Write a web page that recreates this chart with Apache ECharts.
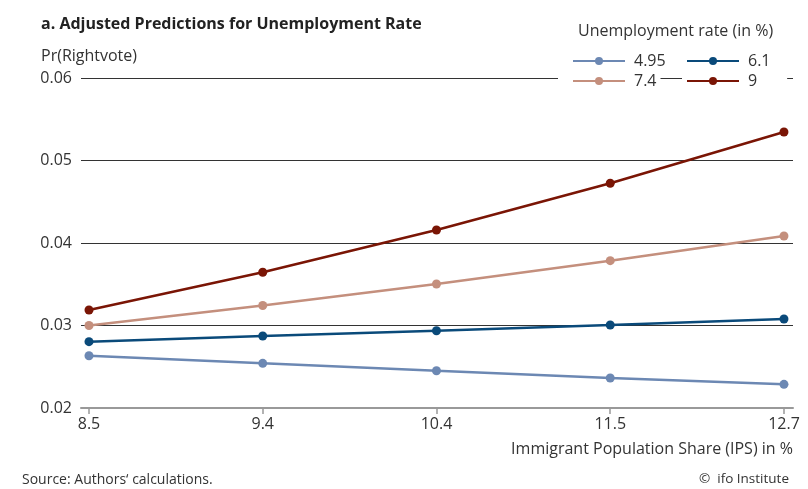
<!DOCTYPE html>
<html><head><meta charset="utf-8">
<script src="https://cdn.jsdelivr.net/npm/echarts@6/dist/echarts.min.js"></script>
<style>html,body{margin:0;padding:0;background:#fff}#c{width:808px;height:489px}</style>
</head><body><div id="c"></div>
<script>
var categories = ['8.5','9.4','10.4','11.5','12.7'];
var seriesNames = ['4.95','6.1','7.4','9'];
var s495 = [0.02634,0.02541,0.02452,0.02364,0.02287];
var s61  = [0.02804,0.02873,0.02937,0.03006,0.03079];
var s74  = [0.03000,0.03242,0.03503,0.03786,0.04085];
var s9   = [0.03188,0.03645,0.04158,0.04724,0.05345];
var yTicks = [0.02,0.03,0.04,0.05,0.06];
var colors = ['#6c88b3','#0a4a7a','#c48f7d','#7a1505'];
var values = [s495,s61,s74,s9];
var idx = categories.map(function(_,i){return i;});
var FONT = 'Open Sans';
var FS = 16;
var chart = echarts.init(document.getElementById('c'), null, {renderer:'canvas'});
var series = values.map(function(v,k){
  return {
    name: seriesNames[k], type:'line', z: 5,
    data: v.map(function(y,i){return [i,y];}),
    symbol:'circle', symbolSize:9, showSymbol:true,
    lineStyle:{color:colors[k], width:2.5},
    itemStyle:{color:colors[k]},
    emphasis:{disabled:true}, animation:false
  };
});
var legendCommon = {
  orient:'horizontal', itemWidth:52, itemHeight:10, itemGap:12,
  textStyle:{fontFamily:FONT, fontSize:FS, color:'#333', padding:[0,0,0,4]},
  selectedMode:false, backgroundColor:'#fff', padding:[2,4,2,4]
};
chart.setOption({
  animation:false,
  textStyle:{fontFamily:FONT},
  title:[
    {text:'a. Adjusted Predictions for Unemployment Rate', left:36, top:11,
     textStyle:{fontFamily:FONT, fontSize:FS, fontWeight:'bold', color:'#222'}},
    {text:'Pr(Rightvote)', left:36, top:43,
     textStyle:{fontFamily:FONT, fontSize:FS, fontWeight:'normal', color:'#333'}},
    {text:'Unemployment rate (in %)', left:573, top:18,
     textStyle:{fontFamily:FONT, fontSize:FS, fontWeight:'normal', color:'#333'}},
    {text:'Source: Authors\u2018 calculations.', left:17, top:468,
     textStyle:{fontFamily:FONT, fontSize:14, fontWeight:'normal', color:'#333'}},
    {text:'\u00a9  ifo Institute', right:14, top:467,
     textStyle:{fontFamily:FONT, fontSize:13.5, fontWeight:'normal', color:'#333'}}
  ],
  legend:[
    Object.assign({data:[seriesNames[0]], left:568, top:51}, legendCommon),
    Object.assign({data:[seriesNames[1]], left:682, top:51}, legendCommon),
    Object.assign({data:[seriesNames[2]]}, legendCommon, {padding:[2,4,2,14], left:558, top:71}),
    Object.assign({data:[seriesNames[3]], left:682, top:71}, legendCommon, {padding:[2,30,2,4]})
  ],
  grid:{left:81, right:15, top:78, bottom:81, containLabel:false},
  xAxis:{
    type:'value', min:-0.046, max:4.052,
    axisLine:{show:true, lineStyle:{color:'#999', width:2}},
    axisTick:{show:true, customValues:idx, length:6, lineStyle:{color:'#999', width:1.5}},
    axisLabel:{customValues:idx, formatter:function(v){return categories[Math.round(v)];},
      fontFamily:FONT, fontSize:FS, color:'#333', margin:8},
    splitLine:{show:false},
    name:'Immigrant Population Share (IPS) in %', nameLocation:'end',
    nameGap:0,
    nameTextStyle:{fontFamily:FONT, fontSize:FS, color:'#333', align:'right', verticalAlign:'top', padding:[33,0,0,0]}
  },
  yAxis:{
    type:'value', min:0.02, max:0.06, interval:0.01,
    axisLine:{show:false}, axisTick:{show:false},
    axisLabel:{fontFamily:FONT, fontSize:FS, color:'#333', margin:9,
      formatter:function(v){return v.toFixed(2);}},
    splitLine:{show:true, lineStyle:{color:'#333', width:1}}
  },
  series:series
});
</script></body></html>
